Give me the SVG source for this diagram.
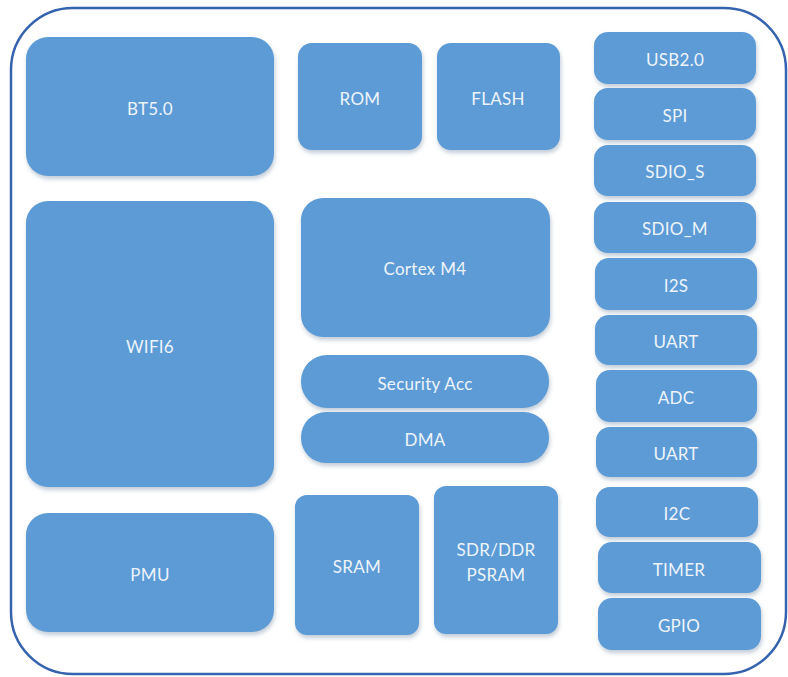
<svg xmlns="http://www.w3.org/2000/svg" width="788" height="677" viewBox="0 0 788 677">
<defs>
<filter id="sh" x="-10%" y="-10%" width="125%" height="130%">
<feDropShadow dx="1" dy="3" stdDeviation="2" flood-color="#8fa3b8" flood-opacity="0.55"/>
</filter>
<style>
.b{fill:#5b9bd5;filter:url(#sh);}
.t{font-family:Lato,"Open Sans","Liberation Sans",sans-serif;font-size:17px;fill:#eef4fb;text-anchor:middle;dominant-baseline:central;letter-spacing:0.3px;}
.frame{fill:#ffffff;stroke:#3563ae;stroke-width:2.5;}
</style>
</defs>
<rect x="0" y="0" width="788" height="677" fill="#ffffff"/>
<rect class="frame" x="11" y="8" width="775" height="666" rx="62" ry="62"/>
<g id="connectors"></g>
<g id="bt50"><rect class="b" x="26" y="37" width="248" height="139" rx="22"/><text class="t" x="150" y="108">BT5.0</text></g>
<g id="wifi6"><rect class="b" x="26" y="201" width="248" height="286" rx="22"/><text class="t" x="150" y="346">WIFI6</text></g>
<g id="pmu"><rect class="b" x="26" y="513" width="248" height="119" rx="22"/><text class="t" x="150" y="574">PMU</text></g>
<g id="rom"><rect class="b" x="298" y="43" width="124" height="107" rx="14"/><text class="t" x="360" y="98">ROM</text></g>
<g id="flash"><rect class="b" x="437" y="43" width="123" height="107" rx="14"/><text class="t" x="498" y="98">FLASH</text></g>
<g id="cortex"><rect class="b" x="301" y="198" width="249" height="139" rx="22"/><text class="t" x="425" y="268">Cortex M4</text></g>
<g id="security"><rect class="b" x="301" y="355" width="248" height="53" rx="26"/><text class="t" x="425" y="383">Security Acc</text></g>
<g id="dma"><rect class="b" x="301" y="412" width="248" height="51" rx="25"/><text class="t" x="425" y="439">DMA</text></g>
<g id="sram"><rect class="b" x="295" y="495" width="124" height="140" rx="12"/><text class="t" x="357" y="566">SRAM</text></g>
<g id="psram"><rect class="b" x="434" y="486" width="124" height="148" rx="12"/><text class="t" x="496" y="549">SDR/DDR</text><text class="t" x="496" y="574">PSRAM</text></g>
<g id="usb"><rect class="b" x="594" y="32" width="162" height="52" rx="14"/><text class="t" x="675" y="59">USB2.0</text></g>
<g id="spi"><rect class="b" x="594" y="88" width="162" height="52" rx="14"/><text class="t" x="675" y="115">SPI</text></g>
<g id="sdio_s"><rect class="b" x="594" y="145" width="162" height="51" rx="14"/><text class="t" x="675" y="171">SDIO_S</text></g>
<g id="sdio_m"><rect class="b" x="594" y="202" width="162" height="51" rx="14"/><text class="t" x="675" y="228">SDIO_M</text></g>
<g id="i2s"><rect class="b" x="595" y="258" width="162" height="52" rx="14"/><text class="t" x="676" y="285">I2S</text></g>
<g id="uart1"><rect class="b" x="595" y="315" width="162" height="50" rx="14"/><text class="t" x="676" y="341">UART</text></g>
<g id="adc"><rect class="b" x="596" y="370" width="161" height="52" rx="14"/><text class="t" x="676" y="397">ADC</text></g>
<g id="uart2"><rect class="b" x="596" y="427" width="161" height="50" rx="14"/><text class="t" x="676" y="453">UART</text></g>
<g id="i2c"><rect class="b" x="596" y="487" width="162" height="50" rx="14"/><text class="t" x="677" y="513">I2C</text></g>
<g id="timer"><rect class="b" x="598" y="542" width="163" height="51" rx="14"/><text class="t" x="679" y="569">TIMER</text></g>
<g id="gpio"><rect class="b" x="598" y="598" width="163" height="52" rx="14"/><text class="t" x="679" y="625">GPIO</text></g>
</svg>
